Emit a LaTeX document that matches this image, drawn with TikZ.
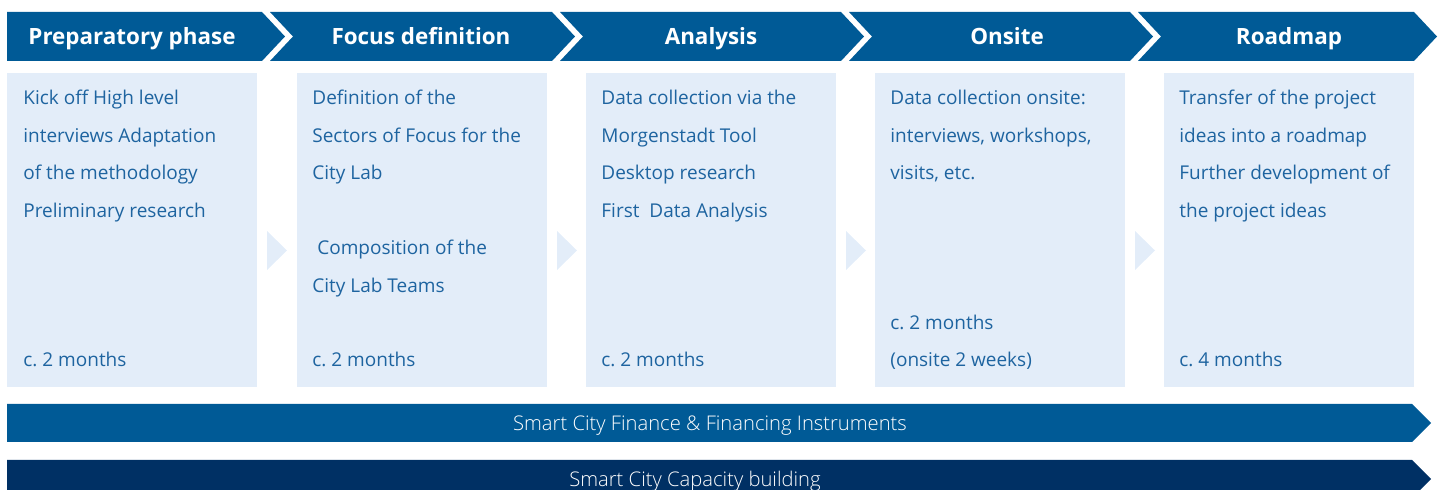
\documentclass[tikz,border=0pt]{standalone}
\usepackage{fontspec}
\setmainfont{Open Sans}
\newfontfamily\lightfont{Open Sans Light}
\definecolor{hdrblue}{HTML}{005A96}
\definecolor{boxfill}{HTML}{E3EDF9}
\definecolor{txtblue}{HTML}{1E64A0}
\definecolor{navy}{HTML}{003064}
\tikzset{
  hdr/.style={fill=hdrblue, draw=none},
  hdrtext/.style={text=white, font=\fontsize{11.2}{13}\selectfont\bfseries, inner sep=0pt, anchor=base},
  panel/.style={fill=boxfill, draw=none},
  linetext/.style={text=txtblue, font=\fontsize{9.5}{11}\selectfont, anchor=base west, inner sep=0pt},
  tri/.style={fill=boxfill, draw=none},
  bartext/.style={text=white, font=\fontsize{10.1}{12}\selectfont\lightfont, inner sep=0pt, anchor=base},
}
\begin{document}
\frenchspacing
\begin{tikzpicture}[x=0.5pt,y=-0.5pt]
\useasboundingbox (0,0) rectangle (1446,490);
\clip (0,0) rectangle (1446,490);
% headers
\fill[hdr] (7,12) -- (262,12) -- (285,36.5) -- (262,61) -- (7,61) -- cycle;
\fill[hdr] (270,12) -- (552,12) -- (575,36.5) -- (552,61) -- (270,61) -- (293,36.5) -- cycle;
\fill[hdr] (560,12) -- (841,12) -- (864,36.5) -- (841,61) -- (560,61) -- (583,36.5) -- cycle;
\fill[hdr] (849,12) -- (1130,12) -- (1153,36.5) -- (1130,61) -- (849,61) -- (872,36.5) -- cycle;
\fill[hdr] (1138,12) -- (1414,12) -- (1437,36.5) -- (1414,61) -- (1138,61) -- (1161,36.5) -- cycle;
\node[hdrtext] (h1) at (132,45) {Preparatory phase};
\node[hdrtext] (h2) at (421,45) {Focus definition};
\node[hdrtext] (h3) at (711,45) {Analysis};
\node[hdrtext] (h4) at (1007,45) {Onsite};
\node[hdrtext] (h5) at (1289,45) {Roadmap};
% panels
\fill[panel] (7,73) rectangle (257,387);
\fill[panel] (297,73) rectangle (547,387);
\fill[panel] (586,73) rectangle (836,387);
\fill[panel] (875,73) rectangle (1125,387);
\fill[panel] (1164,73) rectangle (1414,387);
% small triangles
\fill[tri] (267,231) -- (287,250.5) -- (267,270) -- cycle;
\fill[tri] (557,231) -- (577,250.5) -- (557,270) -- cycle;
\fill[tri] (846,231) -- (866,250.5) -- (846,270) -- cycle;
\fill[tri] (1135,231) -- (1155,250.5) -- (1135,270) -- cycle;
% panel 1
\node[linetext] (a1) at (23,105) {Kick off High level};
\node[linetext] (a2) at (23,142.5) {interviews Adaptation};
\node[linetext] (a3) at (23,180) {of the methodology};
\node[linetext] (a4) at (23,217.5) {Preliminary research};
\node[linetext] (a5) at (23,367) {c. 2 months};
% panel 2
\node[linetext] (b1) at (312,105) {Definition of the};
\node[linetext] (b2) at (312,142.5) {Sectors of Focus for the};
\node[linetext] (b3) at (312,180) {City Lab};
\node[linetext] (b4) at (312,255) {\ Composition of the};
\node[linetext] (b5) at (312,292.5) {City Lab Teams};
\node[linetext] (b6) at (312,367) {c. 2 months};
% panel 3
\node[linetext] (c1) at (601,105) {Data collection via the};
\node[linetext] (c2) at (601,142.5) {Morgenstadt Tool};
\node[linetext] (c3) at (601,180) {Desktop research};
\node[linetext] (c4) at (601,217.5) {First\ \ Data Analysis};
\node[linetext] (c5) at (601,367) {c. 2 months};
% panel 4
\node[linetext] (d1) at (890,105) {Data collection onsite:};
\node[linetext] (d2) at (890,142.5) {interviews, workshops,};
\node[linetext] (d3) at (890,180) {visits, etc.};
\node[linetext] (d4) at (890,329.5) {c. 2 months};
\node[linetext] (d5) at (890,367) {(onsite 2 weeks)};
% panel 5
\node[linetext] (e1) at (1179,105) {Transfer of the project};
\node[linetext] (e2) at (1179,142.5) {ideas into a roadmap};
\node[linetext] (e3) at (1179,180) {Further development of};
\node[linetext] (e4) at (1179,217.5) {the project ideas};
\node[linetext] (e5) at (1179,367) {c. 4 months};
% bottom bars
\fill[hdrblue] (7,404) -- (1412,404) -- (1431,423) -- (1412,442) -- (7,442) -- cycle;
\node[bartext] (f1) at (710,431) {Smart City Finance \& Financing Instruments};
\fill[navy] (7,460) -- (1412,460) -- (1431,479) -- (1412,498) -- (7,498) -- cycle;
\node[bartext] (f2) at (695,487) {Smart City Capacity building};
\end{tikzpicture}
\end{document}
